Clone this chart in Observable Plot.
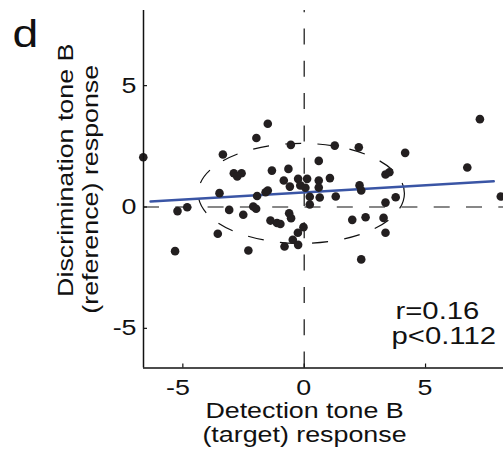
<!DOCTYPE html>
<html><head><meta charset="utf-8">
<script src="https://cdn.jsdelivr.net/npm/d3@7"></script>
<script src="https://cdn.jsdelivr.net/npm/@observablehq/plot@0.6"></script>
<style>body{margin:0;background:#fff}</style>
</head><body><div id="chart"></div>
<script>
// Detection tone B (target) response
const detection = [
  -6.63, -3.35, -3.49, -1.50, -1.97, -0.55, -2.90, -2.58, -2.76, -1.33,
  -0.65, -0.84, -0.59, -0.25, 0.12, -0.16, 0.05, -1.94, -1.50, -1.59,
  0.23, 0.64, 0.23, 0.60, 0.60, 1.06, 0.60, -4.82, -5.22, -3.09,
  -2.10, -1.98, -2.51, -1.39, -1.12, -0.98, -0.62, -0.54, -0.03, -0.26,
  -0.47, -0.25, -0.81, -3.56, -5.32, -2.30, 7.24, 1.26, 2.25, 4.16,
  6.72, 3.35, 3.51, 1.30, 2.28, 2.35, 3.35, 3.77, 8.10, 1.98,
  2.53, 3.27, 3.35, 2.35
];
// Discrimination tone B (reference) response
const discrimination = [
  2.05, 2.16, 0.57, 3.43, 2.84, 2.56, 1.39, 1.39, 1.26, 1.50,
  1.57, 1.09, 0.84, 1.16, 1.16, 0.89, 0.79, 0.45, 0.68, 0.61,
  0.42, 0.39, 0.10, 1.90, 1.09, 1.19, 0.80, -0.01, -0.17, -0.12,
  0.02, -0.07, -0.32, -0.56, -0.66, -0.70, -0.26, -0.46, -0.83, -1.06,
  -1.35, -1.56, -1.63, -1.10, -1.82, -1.79, 3.62, 2.53, 2.46, 2.23,
  1.63, 1.34, 1.43, 0.43, 0.89, 0.68, 0.18, 0.40, 0.43, -0.53,
  -0.42, -0.45, -1.06, -2.16
];
const xTicks = [-5, 0, 5];
const yTicks = [-5, 0, 5];
const fitX = [-6.33, 7.81];
const fitY = [0.23, 1.06];
const ellipseCenter = [-0.10, 0.54];
const ellipseRadii = [4.25, 2.06];
const statLines = ["r=0.16", "p<0.112"];
const xLabelLines = ["Detection tone B", "(target) response"];
const yLabelLines = ["Discrimination tone B", "(reference) response"];
const panelLetter = ["d"];

const points = detection.map((x, i) => ({x, y: discrimination[i]}));
const fit = fitX.map((x, i) => ({x, y: fitY[i]}));
const xDomain = [-6.621, 8.212];
const yDomain = [-6.634, 8.096];
const fmt = d => (d < 0 ? "-" + (-d) : String(d));
const FONT = "22px";
const dash = "16,16.3";

function ellipseMark(index, scales) {
  const sx = typeof scales.x === "function" ? scales.x : scales.scales.x.apply;
  const sy = typeof scales.y === "function" ? scales.y : scales.scales.y.apply;
  const cx = sx(ellipseCenter[0]), cy = sy(ellipseCenter[1]);
  const rx = Math.abs(sx(ellipseCenter[0] + ellipseRadii[0]) - cx);
  const ry = Math.abs(sy(ellipseCenter[1] + ellipseRadii[1]) - cy);
  const el = document.createElementNS("http://www.w3.org/2000/svg", "ellipse");
  el.setAttribute("cx", cx); el.setAttribute("cy", cy);
  el.setAttribute("rx", rx); el.setAttribute("ry", ry);
  el.setAttribute("fill", "none"); el.setAttribute("stroke", "#111");
  el.setAttribute("stroke-width", "1.2");
  el.setAttribute("stroke-dasharray", dash);
  return el;
}

const svg = Plot.plot({
  width: 503,
  height: 464,
  marginLeft: 143,
  marginRight: 0,
  marginTop: 10,
  marginBottom: 96.5,
  x: {domain: xDomain, axis: null},
  y: {domain: yDomain, axis: null},
  style: {fontFamily: "'Liberation Sans', Arial, Helvetica, sans-serif", color: "#111", background: "#fff", overflow: "visible"},
  marks: [
    Plot.ruleY([0], {stroke: "#111", strokeWidth: 1.2, strokeDasharray: dash}),
    Plot.ruleX([0], {y1: yDomain[0], y2: yDomain[1], stroke: "#111", strokeWidth: 1.2, strokeDasharray: dash}),
    ellipseMark,
    Plot.line(fit, {x: "x", y: "y", stroke: "#3a55a5", strokeWidth: 2.5}),
    Plot.dot(points, {x: "x", y: "y", r: 4.3, fill: "#231f20", stroke: "none"}),
    // axes
    Plot.ruleX([xDomain[0]], {stroke: "#111", strokeWidth: 1.5}),
    Plot.ruleY([yDomain[0]], {stroke: "#111", strokeWidth: 1.5}),
    Plot.ruleX(xTicks, {stroke: "#111", strokeWidth: 1.2, insetTop: 353.5}),
    Plot.ruleY(yTicks, {stroke: "#111", strokeWidth: 1.2, insetRight: 356}),
    Plot.text(xTicks, {x: d => d, text: fmt, frameAnchor: "bottom", dy: 20, dx: 7, textAnchor: "end", lineAnchor: "middle", fontSize: FONT, fill: "#111"}),
    Plot.text(yTicks, {y: d => d, text: fmt, frameAnchor: "left", dx: -7, textAnchor: "end", lineAnchor: "middle", fontSize: FONT, fill: "#111"}),
    Plot.text([xLabelLines[0]], {text: d => d, frameAnchor: "bottom", dx: -19, dy: 49.8, textAnchor: "middle", lineAnchor: "bottom", fontSize: FONT, fill: "#111"}),
    Plot.text([xLabelLines[1]], {text: d => d, frameAnchor: "bottom", dx: -19, dy: 74, textAnchor: "middle", lineAnchor: "bottom", fontSize: FONT, fill: "#111"}),
    Plot.text([yLabelLines[0]], {text: d => d, frameAnchor: "left", rotate: -90, dx: -71, dy: -19, textAnchor: "middle", lineAnchor: "bottom", fontSize: FONT, fill: "#111"}),
    Plot.text([yLabelLines[1]], {text: d => d, frameAnchor: "left", rotate: -90, dx: -46, textAnchor: "middle", lineAnchor: "bottom", fontSize: FONT, fill: "#111"}),
    Plot.text(panelLetter, {text: d => d, frameAnchor: "top-left", dx: -131, dy: 36, textAnchor: "start", lineAnchor: "bottom", fontSize: "38px", fill: "#111"}),
    Plot.text([statLines[0]], {text: d => d, frameAnchor: "top-left", dx: 252, dy: 308, textAnchor: "start", lineAnchor: "bottom", fontSize: "24px", fill: "#111"}),
    Plot.text([statLines[1]], {text: d => d, frameAnchor: "top-left", dx: 248, dy: 333, textAnchor: "start", lineAnchor: "bottom", fontSize: "24px", fill: "#111"})
  ]
});

// widen glyphs along the text direction, as in the reference
svg.querySelectorAll("text").forEach(t => {
  const tr = t.getAttribute("transform");
  if (tr) t.setAttribute("transform", tr + " scale(1.22,1)");
  else {
    const x = +t.getAttribute("x") || 0;
    t.removeAttribute("x");
    t.setAttribute("transform", `translate(${x},0) scale(1.22,1)`);
  }
});
document.getElementById("chart").appendChild(svg);
</script>
</body></html>
